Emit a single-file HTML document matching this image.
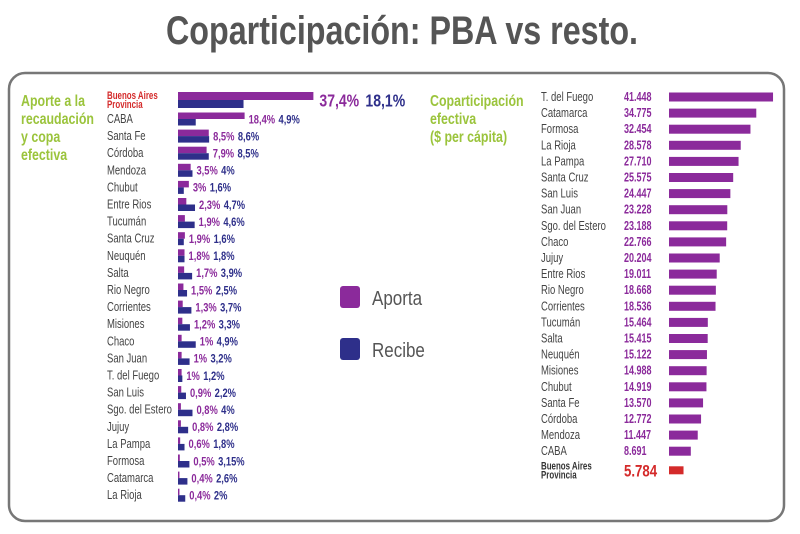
<!DOCTYPE html>
<html><head><meta charset="utf-8"><style>
html,body{margin:0;padding:0;background:#fff;}
svg{display:block;font-family:"Liberation Sans",sans-serif;}
</style></head><body>
<svg id="c" width="800" height="534" viewBox="0 0 800 534">
<rect x="0" y="0" width="800" height="534" fill="#fff"/>
<text x="402" y="44" text-anchor="middle" font-size="40" font-weight="bold" fill="#555" textLength="472" lengthAdjust="spacingAndGlyphs">Coparticipación: PBA vs resto.</text>
<rect x="9" y="73" width="775" height="448" rx="16" fill="#fff" stroke="#777" stroke-width="2.5"/>
<text transform="translate(21,0) scale(0.8,1)" font-size="15.5" font-weight="bold" fill="#9bc43c"><tspan x="0" y="106">Aporte a la</tspan><tspan x="0" y="124">recaudación</tspan><tspan x="0" y="142">y copa</tspan><tspan x="0" y="160">efectiva</tspan></text>
<text transform="translate(430,0) scale(0.8,1)" font-size="15.5" font-weight="bold" fill="#9bc43c"><tspan x="0" y="106">Coparticipación</tspan><tspan x="0" y="124">efectiva</tspan><tspan x="0" y="142">($ per cápita)</tspan></text>
<rect x="340" y="286" width="20" height="22" rx="3" fill="#8b2a9b"/>
<text transform="translate(372,305) scale(0.85,1)" font-size="20" fill="#555">Aporta</text>
<rect x="340" y="338" width="20" height="22" rx="3" fill="#2e2f8a"/>
<text transform="translate(372,357) scale(0.85,1)" font-size="20" fill="#555">Recibe</text>
<g id="left"></g><g id="right"></g>
</svg>
<script>
const leftCats=["CABA","Santa Fe","Córdoba","Mendoza","Chubut","Entre Rios","Tucumán","Santa Cruz","Neuquén","Salta","Rio Negro","Corrientes","Misiones","Chaco","San Juan","T. del Fuego","San Luis","Sgo. del Estero","Jujuy","La Pampa","Formosa","Catamarca","La Rioja"];
const leftAporta=[18.4,8.5,7.9,3.5,3,2.3,1.9,1.9,1.8,1.7,1.5,1.3,1.2,1,1,1,0.9,0.8,0.8,0.6,0.5,0.4,0.4];
const leftRecibe=[4.9,8.6,8.5,4,1.6,4.7,4.6,1.6,1.8,3.9,2.5,3.7,3.3,4.9,3.2,1.2,2.2,4,2.8,1.8,3.15,2.6,2];
const leftAportaLbl=["18,4%","8,5%","7,9%","3,5%","3%","2,3%","1,9%","1,9%","1,8%","1,7%","1,5%","1,3%","1,2%","1%","1%","1%","0,9%","0,8%","0,8%","0,6%","0,5%","0,4%","0,4%"];
const leftRecibeLbl=["4,9%","8,6%","8,5%","4%","1,6%","4,7%","4,6%","1,6%","1,8%","3,9%","2,5%","3,7%","3,3%","4,9%","3,2%","1,2%","2,2%","4%","2,8%","1,8%","3,15%","2,6%","2%"];
const pbaAporta=37.4, pbaRecibe=18.1;
const rightCats=["T. del Fuego","Catamarca","Formosa","La Rioja","La Pampa","Santa Cruz","San Luis","San Juan","Sgo. del Estero","Chaco","Jujuy","Entre Rios","Rio Negro","Corrientes","Tucumán","Salta","Neuquén","Misiones","Chubut","Santa Fe","Córdoba","Mendoza","CABA"];
const rightVals=[41448,34775,32454,28578,27710,25575,24447,23228,23188,22766,20204,19011,18668,18536,15464,15415,15122,14988,14919,13570,12772,11447,8691];
const pbaPerCapita=5784;
const NS="http://www.w3.org/2000/svg";
function mk(p,t,a,txt){const e=document.createElementNS(NS,t);for(const k in a)e.setAttribute(k,a[k]);if(txt!=null)e.textContent=txt;p.appendChild(e);return e;}
function tx(p,x,y,a,txt,sx){a.transform='translate('+x+','+y+') scale('+(sx||0.78)+',1)';a.x=0;a.y=0;return mk(p,'text',a,txt);}
const fmt=v=>String(v).replace(/\B(?=(\d{3})+(?!\d))/g,".");
const L=document.getElementById('left');
const x0=178, xs=v=>v*3.62, rowY=i=>119+i*17.1;
function leftRow(y,a,r,al,rl,big,idx){
  const h=big?8:6.5;
  let e=mk(L,'rect',{x:x0,y:y-h,width:xs(a),height:h,fill:'#8b2a9b'});
  
  
  e=mk(L,'rect',{x:x0,y:y,width:xs(r),height:h,fill:'#2e2f8a'});
  
  
  const end=x0+Math.max(xs(a),xs(r))+(big?6:4);
  const fs=big?18:12;
  const t=tx(L,end,y+fs*0.36,{'font-size':fs,'font-weight':'bold'},null,0.78);
  
  
  mk(t,'tspan',{fill:'#8b2a9b'},al+' ');
  mk(t,'tspan',{fill:'#2e2f8a',dx:big?3:1},rl);
}
let lb=mk(L,'text',{'font-size':11,'font-weight':'bold',fill:'#d42a2a',transform:'translate(107,0) scale(0.72,1)'});


mk(lb,'tspan',{x:0,y:99},'Buenos Aires');mk(lb,'tspan',{x:0,y:108},'Provincia');
leftRow(100,pbaAporta,pbaRecibe,'37,4%','18,1%',true,'pba');
leftCats.forEach((c,i)=>{
  const y=rowY(i);
  const t=tx(L,107,y+4,{'font-size':12.5,fill:'#444'},c,0.76);
  
  
  leftRow(y,leftAporta[i],leftRecibe[i],leftAportaLbl[i],leftRecibeLbl[i],false,i);
});
const R=document.getElementById('right');
const rx0=669, rxs=v=>v*0.00251, rY=i=>97+i*16.1;
rightCats.forEach((c,i)=>{
  const y=rY(i);
  let t=tx(R,541,y+4,{'font-size':12.5,fill:'#444'},c,0.76);
  
  
  t=tx(R,624,y+4,{'font-size':12.5,'font-weight':'bold',fill:'#8b2a9b'},fmt(rightVals[i]),0.72);
  
  
  const b=mk(R,'rect',{x:rx0,y:y-4.5,width:rxs(rightVals[i]),height:9,fill:'#8b2a9b'});
  
  
});
const py=rY(rightCats.length)+3;
let pt=mk(R,'text',{'font-size':11,'font-weight':'bold',fill:'#333',transform:'translate(541,0) scale(0.72,1)'});


mk(pt,'tspan',{x:0,y:py-1},'Buenos Aires');mk(pt,'tspan',{x:0,y:py+8},'Provincia');
pt=tx(R,624,py+6,{'font-size':17,'font-weight':'bold',fill:'#d42a2a'},fmt(pbaPerCapita),0.78);


const pb=mk(R,'rect',{x:rx0,y:py-4,width:rxs(pbaPerCapita),height:8,fill:'#d42a2a'});


</script>
</body></html>
